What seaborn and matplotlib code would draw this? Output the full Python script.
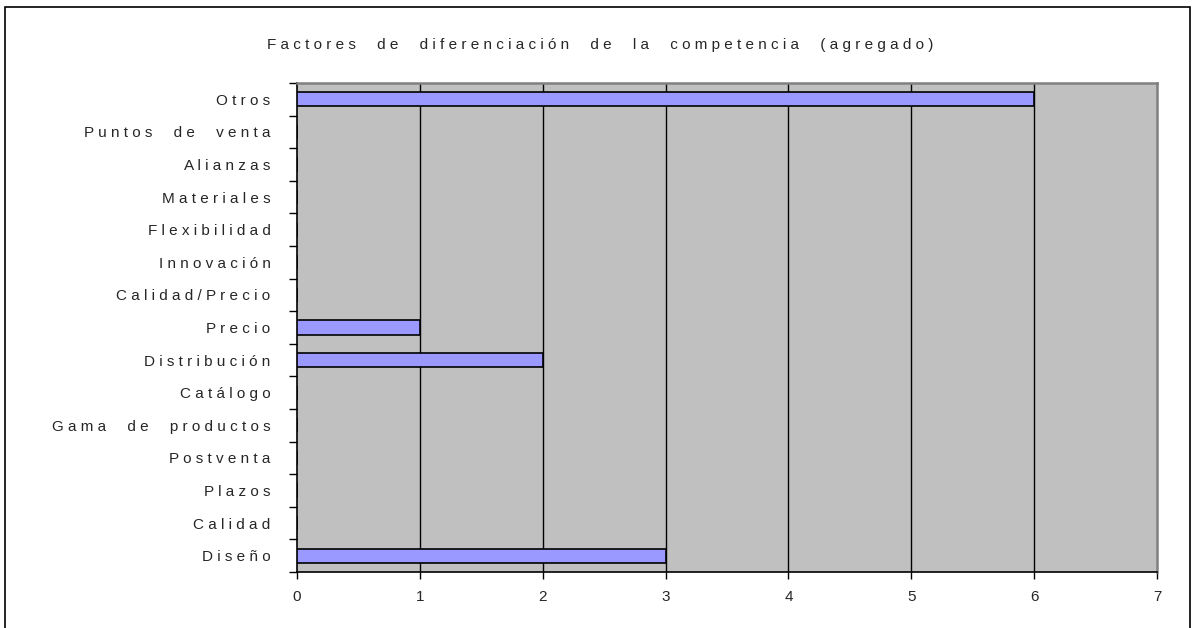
import matplotlib
matplotlib.use("Agg")
import matplotlib.pyplot as plt
import seaborn as sns
import pandas as pd
from matplotlib.patches import Rectangle
from matplotlib.ticker import FixedLocator

categories = ["Otros", "Puntos de venta", "Alianzas", "Materiales", "Flexibilidad",
              "Innovación", "Calidad/Precio", "Precio", "Distribución", "Catálogo",
              "Gama de productos", "Postventa", "Plazos", "Calidad", "Diseño"]
values = [6, 0, 0, 0, 0, 0, 0, 1, 2, 0, 0, 0, 0, 0, 3]
x_ticks = [0, 1, 2, 3, 4, 5, 6, 7]
title = "Factores de diferenciación de la competencia (agregado)"


def spaced(text):
    # widen letter spacing the way the spreadsheet renders it
    return "     ".join(" ".join(word) for word in text.split(" "))


sns.set_theme(style="white")
plt.rcParams["font.family"] = ["Liberation Sans", "DejaVu Sans"]

W, H = 1196, 628
fig = plt.figure(figsize=(W / 100, H / 100), dpi=100)
ax = fig.add_axes([297 / W, 1 - 572 / H, (1157 - 297) / W, (572 - 83) / H])

df = pd.DataFrame({"cat": categories, "val": values})
sns.barplot(data=df, x="val", y="cat", orient="h", color="#9999FF",
            saturation=1, width=0.43, edgecolor="black", linewidth=1.2, ax=ax,
            zorder=3)

ax.set_facecolor("#C0C0C0")
ax.set_xlim(0, 7)
ax.set_ylim(len(categories) - 0.5, -0.5)
ax.set_xticks(x_ticks)
ax.set_xticklabels([str(t) for t in x_ticks], fontsize=11)
ax.set_yticks(range(len(categories)))
ax.set_yticklabels([spaced(c) for c in categories], fontsize=11)
ax.yaxis.set_minor_locator(FixedLocator([i - 0.5 for i in range(len(categories) + 1)]))
ax.tick_params(axis="y", which="major", length=0, pad=19)
ax.tick_params(axis="y", which="minor", length=6, width=1, color="black", left=True)
ax.tick_params(axis="x", which="major", length=5, width=1, color="black", bottom=True, pad=8)
ax.set_xlabel("")
ax.set_ylabel("")

ax.grid(False)
for v in x_ticks[1:-1]:
    ax.axvline(v, color="black", linewidth=1, zorder=1)

for side in ["left", "bottom"]:
    ax.spines[side].set_color("black")
    ax.spines[side].set_linewidth(1.2)
for side in ["top", "right"]:
    ax.spines[side].set_color("#808080")
    ax.spines[side].set_linewidth(1.8)

fig.text(600 / W, 1 - 45 / H, spaced(title), ha="center", va="center", fontsize=11)

fig.patches.append(Rectangle((5 / W, -0.02), (1190 - 5) / W, 1 - 7 / H + 0.02,
                             transform=fig.transFigure, fill=False,
                             edgecolor="black", linewidth=1.2))

fig.savefig("out.png", dpi=100)
